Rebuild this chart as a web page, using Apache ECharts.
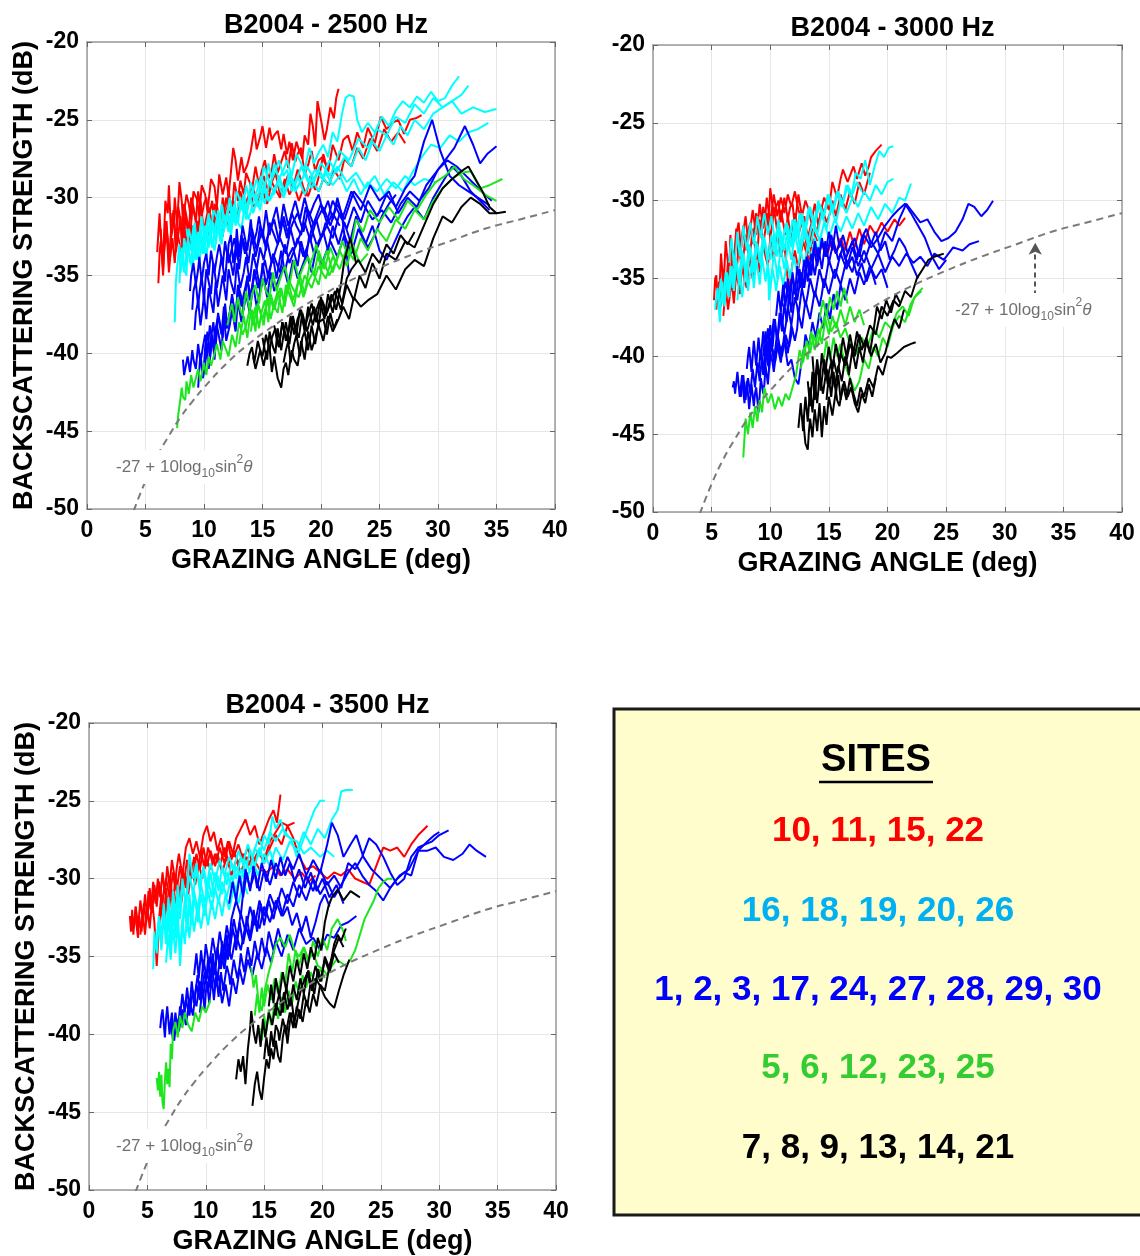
<!DOCTYPE html>
<html><head><meta charset="utf-8">
<script src="https://cdn.jsdelivr.net/npm/echarts@6/dist/echarts.min.js"></script>
<style>html,body{margin:0;padding:0;background:#fff}#c{width:1140px;height:1256px}</style>
</head><body><div id="c"></div>
<script>
// ---------------- DATA ----------------
const titles = ['B2004 - 2500 Hz', 'B2004 - 3000 Hz', 'B2004 - 3500 Hz'];
const xAxisName = 'GRAZING ANGLE (deg)';
const yAxisName = 'BACKSCATTERING STRENGTH (dB)';
const siteTitle = 'SITES';
const siteGroups = ['10, 11, 15, 22', '16, 18, 19, 20, 26', '1, 2, 3, 17, 24, 27, 28, 29, 30', '5, 6, 12, 23, 25', '7, 8, 9, 13, 14, 21'];
const siteColors = ['#ff0000', '#00b0f0', '#0000ff', '#33cc33', '#000000'];
const lineColors = ['#ff0000', '#00ffff', '#0000ff', '#1ee61e', '#000000'];
// reference curve -27 + 10log10 sin^2(theta)
const refAngle = [4, 5, 6, 7, 8, 9, 10, 12, 14, 16, 18, 20, 22, 25, 28, 31, 34, 37, 40];
const refLevel = [-50.1, -48.2, -46.6, -45.3, -44.1, -43.1, -42.2, -40.6, -39.3, -38.2, -37.2, -36.3, -35.5, -34.5, -33.6, -32.8, -32.0, -31.4, -30.8];
const arrowAngle = [32.6, 32.6];
const arrowLevel = [-36.1, -32.7];

// each line: flat list angle,level,angle,level,...
const red2500 = [
[6.0,-33.5,6.2,-31.0,6.3,-32.4,6.5,-34.0,6.7,-30.2,6.9,-31.0,7.0,-29.2,7.2,-32.5,7.4,-31.6,7.5,-30.0,7.7,-31.8,7.9,-29.0,8.1,-30.2,8.2,-31.5,8.5,-29.8,8.7,-30.4,8.9,-31.4,9.1,-29.6,9.4,-30.1,9.6,-31.2,9.8,-29.2,10.1,-29.8,10.3,-30.9,10.6,-28.8,10.9,-29.3,11.1,-30.6,11.3,-28.5,11.6,-29.8,11.9,-28.7,12.1,-29.9,12.5,-26.8,12.7,-27.6,12.9,-28.9,13.2,-27.4,13.4,-28.4,13.7,-27.9,14.0,-27.0,14.3,-25.6,14.5,-26.9,14.8,-26.1,15.0,-25.4,15.3,-26.8,15.6,-25.5,15.8,-26.3,16.0,-26.0,16.3,-25.7,16.6,-26.9,16.8,-25.9,17.1,-27.2,17.3,-26.4,17.6,-27.6,17.9,-26.4,18.1,-26.9,18.4,-27.5,18.6,-26.0,18.9,-26.6,19.1,-24.6,19.3,-25.4,19.5,-26.7,19.7,-23.8,20.0,-25.0,20.3,-26.3,20.5,-25.6,20.8,-24.2,21.1,-24.9,21.3,-23.6,21.5,-23.0],
[6.3,-32.0,6.4,-33.6,6.5,-35.0,6.7,-31.5,6.9,-32.6,7.0,-34.2,7.2,-31.9,7.4,-30.8,7.6,-33.5,7.8,-32.4,8.0,-31.2,8.2,-34.0,8.4,-31.0,8.6,-32.1,8.8,-33.0,9.0,-30.5,9.3,-31.4,9.5,-32.5,9.7,-30.2,10.0,-32.2,10.2,-31.3,10.4,-30.6,10.7,-32.0,10.9,-30.4,11.2,-31.1,11.4,-31.6,11.6,-30.0,11.9,-31.4,12.1,-29.6,12.4,-30.8,12.6,-29.0,12.9,-30.2,13.1,-28.9,13.4,-29.8,13.6,-28.4,13.9,-29.0,14.1,-29.5,14.4,-28.0,14.7,-29.2,14.9,-28.4,15.2,-27.6,15.5,-28.8,15.8,-28.2,16.0,-27.2,16.3,-28.4,16.6,-27.7,16.9,-27.0,17.2,-28.1,17.5,-26.5,17.8,-27.7,18.0,-27.2,18.3,-26.8,18.6,-28.5,18.9,-27.9,19.2,-27.0,19.5,-28.3,19.8,-27.6,20.1,-27.4,20.5,-28.0],
[6.8,-31.5,6.9,-32.9,7.1,-33.8,7.3,-31.0,7.5,-31.8,7.6,-33.2,7.8,-30.6,8.0,-31.5,8.1,-32.8,8.3,-30.4,8.5,-31.2,8.7,-32.2,8.9,-30.0,9.1,-30.6,9.3,-31.6,9.5,-29.6,9.8,-31.2,10.0,-30.4,10.2,-30.0,10.4,-31.3,10.7,-30.2,10.9,-32.0,11.1,-30.5,11.4,-31.8,11.7,-31.0,11.9,-30.0,12.2,-31.0,12.5,-30.2,12.8,-31.2,13.1,-29.6,13.5,-30.5,13.8,-29.9,14.1,-29.2,14.5,-30.1,14.8,-29.5,15.1,-28.6,15.5,-29.6,15.8,-29.0,16.1,-28.4,16.5,-29.8,16.9,-29.2,17.2,-28.5,17.6,-29.4,18.0,-28.2,18.4,-29.1,18.7,-29.9,19.1,-28.6,19.5,-29.5,19.9,-28.4,20.2,-27.2,20.6,-28.4,21.0,-26.6,21.5,-27.6,21.9,-26.3,22.3,-26.0,22.7,-27.0,23.1,-25.8,23.6,-26.8,24.0,-25.5,24.6,-26.5,25.1,-24.8,25.6,-25.6,26.1,-25.2,26.6,-25.0,27.1,-25.9,27.6,-25.0,28.1,-24.9,28.6,-24.7],
[6.1,-35.5,6.2,-33.6,6.3,-32.8,6.5,-34.6,6.6,-33.4,6.8,-32.0,7.0,-34.8,7.1,-33.9,7.3,-32.6,7.5,-34.2,7.7,-32.2,7.9,-32.9,8.1,-33.6,8.3,-31.6,8.6,-33.4,8.8,-32.6,9.0,-31.8,9.2,-33.0,9.5,-31.5,9.7,-32.1,9.9,-33.2,10.2,-31.4,10.4,-32.4,10.6,-31.8,10.8,-30.8,11.1,-32.2,11.3,-31.0,11.6,-32.5,11.8,-31.2,12.1,-32.0,12.4,-30.6,12.7,-31.5,13.0,-30.9,13.3,-30.0,13.6,-31.0,14.0,-29.8,14.3,-30.6,14.7,-30.1,15.0,-29.5,15.4,-30.4,15.8,-29.0,16.2,-29.6,16.5,-30.0,16.9,-28.8,17.3,-29.8,17.7,-29.2,18.1,-30.2,18.5,-29.4,18.9,-29.9,19.3,-29.0,19.8,-29.6,20.2,-28.8,20.7,-29.2,21.1,-28.2,21.6,-28.8,22.0,-27.5,22.6,-28.0,23.1,-26.8,23.6,-27.5,24.2,-26.2,24.8,-27.0,25.4,-25.6,26.0,-26.4,26.6,-25.8,27.2,-26.5]
];
const cyan2500 = [
[7.5,-38.0,7.6,-35.4,7.7,-34.5,7.9,-33.0,8.0,-34.8,8.2,-33.9,8.3,-32.6,8.5,-33.8,8.7,-32.0,8.9,-32.7,9.0,-33.5,9.2,-31.6,9.4,-33.0,9.6,-32.4,9.8,-31.2,10.0,-32.6,10.2,-31.9,10.4,-31.0,10.6,-32.4,10.8,-30.8,11.1,-31.3,11.3,-32.0,11.5,-30.4,11.8,-31.6,12.0,-30.9,12.2,-30.0,12.5,-31.2,12.8,-29.6,13.1,-30.2,13.3,-30.8,13.6,-29.2,13.9,-30.2,14.2,-29.6,14.5,-28.8,14.8,-29.6,15.1,-28.0,15.4,-28.6,15.7,-29.2,16.0,-27.8,16.4,-28.8,16.8,-28.2,17.1,-27.6,17.5,-28.6,17.9,-27.2,18.3,-27.8,18.6,-28.2,19.0,-26.8,19.4,-27.8,19.8,-27.1,20.2,-26.6,20.6,-27.4,21.0,-25.8,21.4,-26.4,21.8,-24.6,22.1,-23.6,22.4,-23.4,22.8,-23.5,23.1,-25.0,23.5,-25.8,24.0,-25.2,24.6,-25.8,25.2,-24.8,25.8,-25.4,26.4,-24.4,27.0,-23.8,27.6,-24.2,28.2,-23.5,28.8,-23.9,29.4,-23.2,30.0,-23.8,30.6,-23.6,31.2,-22.8,31.8,-22.2],
[8.2,-33.5,8.3,-34.6,8.5,-35.0,8.6,-33.0,8.8,-33.9,9.0,-34.6,9.1,-32.4,9.3,-33.1,9.5,-34.0,9.7,-32.0,10.0,-33.6,10.2,-32.6,10.4,-31.8,10.7,-33.2,10.9,-32.2,11.1,-31.4,11.4,-32.8,11.6,-31.0,11.9,-31.6,12.1,-32.2,12.4,-30.6,12.7,-31.8,13.0,-30.9,13.3,-30.2,13.6,-31.4,13.9,-29.8,14.2,-31.0,14.5,-30.2,14.8,-29.4,15.2,-30.4,15.6,-29.0,16.0,-29.8,16.4,-28.6,16.9,-29.6,17.3,-28.4,17.8,-29.2,18.3,-28.0,18.9,-29.0,19.5,-28.2,20.1,-28.8,20.7,-27.6,21.3,-28.4,22.0,-27.4,22.6,-28.0,23.2,-26.8,23.8,-27.6,24.4,-26.4,25.0,-27.0,25.6,-26.0,26.2,-26.6,26.8,-25.4,27.4,-26.0,28.0,-25.0,28.8,-25.6,29.6,-24.6,30.4,-24.2,31.2,-23.8,32.0,-23.4,32.6,-22.8],
[8.5,-32.0,8.7,-32.9,8.9,-33.4,9.1,-31.8,9.4,-33.2,9.6,-32.5,9.8,-31.4,10.1,-32.8,10.4,-31.2,10.7,-31.8,10.9,-32.4,11.2,-30.8,11.6,-32.0,11.9,-31.2,12.2,-30.6,12.6,-31.6,13.0,-30.2,13.4,-31.0,13.8,-30.4,14.1,-29.6,14.6,-30.6,15.1,-29.2,15.6,-30.2,16.0,-29.6,16.4,-28.8,16.9,-29.8,17.4,-28.6,17.9,-29.4,18.4,-28.8,18.8,-28.0,19.4,-28.8,20.0,-27.8,20.8,-28.6,21.6,-27.0,22.4,-27.6,23.2,-26.2,24.0,-26.8,24.8,-25.6,25.6,-26.0,26.4,-24.8,27.2,-25.2,28.0,-24.0,28.8,-24.6,29.6,-23.6,30.4,-24.2,31.2,-23.8,32.0,-24.6,33.0,-24.2,34.0,-24.5,35.0,-24.3],
[9.0,-34.5,9.2,-33.6,9.4,-32.8,9.6,-34.2,9.8,-33.0,10.0,-32.4,10.2,-33.8,10.5,-32.0,10.7,-32.8,10.9,-33.4,11.2,-31.6,11.5,-33.0,11.7,-31.8,12.0,-31.2,12.3,-32.4,12.6,-30.8,12.9,-31.6,13.2,-32.0,13.5,-30.4,13.8,-31.4,14.1,-30.6,14.4,-29.8,14.8,-30.8,15.1,-29.4,15.5,-30.2,15.9,-29.6,16.3,-29.0,16.8,-30.0,17.3,-28.6,17.8,-29.6,18.3,-28.9,18.7,-28.4,19.2,-29.4,19.8,-28.2,20.6,-29.2,21.4,-28.0,22.2,-29.0,23.0,-28.4,23.8,-29.4,24.6,-28.6,25.4,-29.8,26.2,-29.0,27.0,-29.6,27.8,-28.4,28.6,-27.4,29.4,-26.6,30.2,-26.8,31.0,-26.0,31.8,-26.4,32.6,-25.8,33.4,-25.6,34.3,-25.2],
[7.9,-35.5,8.0,-34.0,8.1,-33.2,8.3,-34.8,8.5,-33.6,8.6,-32.8,8.8,-34.2,9.0,-33.4,9.1,-32.4,9.3,-34.0,9.5,-32.2,9.7,-32.8,9.9,-33.6,10.1,-31.8,10.4,-33.2,10.6,-32.4,10.8,-31.6,11.0,-33.0,11.3,-31.2,11.5,-32.6,11.8,-31.8,12.0,-30.8,12.3,-32.0,12.6,-30.4,12.9,-31.6,13.1,-30.6,13.4,-29.8,13.7,-30.8,14.0,-29.0,14.3,-30.0,14.6,-29.4,14.9,-28.6,15.2,-29.4,15.5,-27.8,15.8,-28.8,16.1,-28.3,16.4,-27.6,16.8,-28.6,17.1,-28.2,17.5,-29.6,18.0,-28.6,18.6,-29.8,19.2,-28.8,19.8,-29.6,20.4,-28.4,21.0,-29.2,21.6,-28.6,22.2,-29.6,22.8,-28.8,23.4,-29.8,24.0,-29.0,24.8,-29.6,25.6,-28.8,26.4,-29.4,27.2,-28.6,28.0,-29.2,28.8,-28.8,29.8,-29.0]
];
const blue2500 = [
[8.2,-40.4,8.3,-41.4,8.5,-40.6,8.6,-40.2,8.8,-41.2,9.0,-39.8,9.1,-40.4,9.3,-41.0,9.5,-39.4,9.7,-40.6,9.9,-39.6,10.1,-38.8,10.3,-40.0,10.5,-38.2,10.8,-39.6,11.0,-38.4,11.2,-37.6,11.5,-38.8,11.7,-37.0,11.9,-38.4,12.2,-37.4,12.4,-36.4,12.7,-37.8,12.9,-35.8,13.2,-37.0,13.4,-36.2,13.7,-35.2,14.0,-36.4,14.3,-34.6,14.6,-35.8,14.9,-35.0,15.2,-34.0,15.5,-35.2,15.9,-33.6,16.2,-34.2,16.5,-34.8,16.9,-33.0,17.3,-34.2,17.7,-33.4,18.0,-32.6,18.5,-33.8,18.9,-33.0,19.2,-32.0,19.7,-33.2,20.1,-32.4,20.4,-31.6,21.0,-32.6,21.6,-31.0,22.2,-32.0,22.8,-30.6,23.4,-31.6,24.0,-30.2,24.8,-31.2,25.6,-29.8,26.4,-30.6,27.2,-29.4,28.0,-28.6,28.8,-26.4,29.5,-25.0,30.2,-27.0,31.0,-28.6,31.8,-29.2,32.6,-29.6,33.4,-30.0,34.4,-30.5],
[9.0,-37.2,9.1,-36.0,9.3,-35.4,9.5,-37.0,9.6,-36.2,9.8,-35.0,10.0,-36.6,10.2,-34.6,10.4,-35.4,10.6,-36.2,10.8,-34.2,11.1,-35.8,11.3,-34.8,11.5,-33.8,11.8,-35.4,12.0,-33.4,12.3,-34.2,12.5,-35.0,12.8,-33.0,13.0,-34.6,13.3,-32.6,13.6,-33.4,13.8,-34.2,14.1,-32.4,14.4,-33.8,14.7,-32.8,15.0,-32.0,15.3,-33.4,15.6,-31.6,16.0,-32.4,16.3,-33.0,16.7,-31.4,17.1,-32.6,17.5,-31.0,17.9,-31.8,18.3,-32.4,18.7,-30.6,19.2,-32.0,19.6,-31.2,20.0,-30.4,20.5,-31.6,21.0,-30.2,21.8,-31.4,22.6,-29.6,23.4,-30.8,24.2,-29.2,25.0,-30.2,25.8,-29.6,26.6,-31.0,27.4,-30.0,28.2,-30.6,29.0,-29.2,29.8,-28.4,30.6,-27.6,31.4,-26.8,32.3,-25.4,33.0,-26.6,33.6,-27.8,34.2,-27.2,35.0,-26.7],
[9.5,-42.2,9.6,-41.0,9.7,-40.0,9.9,-41.6,10.1,-40.8,10.2,-39.4,10.4,-41.0,10.6,-39.8,10.7,-38.8,10.9,-40.4,11.1,-38.2,11.3,-39.0,11.5,-39.8,11.7,-37.6,11.9,-39.2,12.2,-38.2,12.4,-37.2,12.7,-38.6,12.9,-36.6,13.2,-38.0,13.4,-37.0,13.6,-36.2,13.9,-37.4,14.2,-35.6,14.5,-37.0,14.8,-36.0,15.1,-35.2,15.4,-36.4,15.7,-34.8,16.0,-36.0,16.4,-35.2,16.8,-34.4,17.2,-35.6,17.6,-34.0,18.0,-35.2,18.4,-34.4,18.8,-33.6,19.2,-34.8,19.6,-33.2,20.0,-34.4,20.4,-33.6,20.8,-32.8,21.4,-33.8,22.0,-32.4,22.6,-33.6,23.2,-32.0,23.8,-33.0,24.4,-31.8,25.0,-33.4,25.6,-34.0,26.2,-33.0,26.8,-32.0,27.4,-31.2,28.0,-30.6,28.8,-31.4,29.6,-30.0,30.4,-29.0,31.2,-28.0,32.0,-28.6,32.8,-29.6,33.6,-30.2,34.4,-30.8],
[8.8,-36.0,8.9,-35.0,9.1,-34.2,9.3,-35.6,9.5,-34.6,9.6,-33.8,9.8,-35.4,10.0,-34.2,10.2,-33.6,10.4,-35.0,10.6,-33.4,10.9,-34.8,11.1,-33.8,11.3,-33.0,11.6,-34.4,11.8,-32.8,12.1,-34.2,12.4,-33.2,12.6,-32.6,12.9,-34.0,13.2,-32.4,13.5,-33.6,13.8,-32.8,14.1,-32.0,14.5,-33.4,14.8,-31.8,15.2,-33.0,15.6,-32.2,16.0,-31.4,16.4,-32.8,16.8,-31.2,17.2,-32.4,17.6,-31.6,18.0,-31.0,18.5,-32.2,18.9,-30.8,19.4,-31.8,19.8,-31.2,20.2,-30.6,20.8,-31.8,21.4,-30.4,22.0,-31.4,22.8,-29.6,23.6,-30.4,24.4,-31.4,25.2,-30.8,26.0,-31.6,26.8,-30.4,27.6,-29.6,28.4,-30.2,29.2,-29.4,30.0,-28.2,30.8,-27.6,31.6,-28.0,32.4,-28.6,33.2,-29.2,34.0,-29.8,34.6,-30.2],
[10.0,-40.8,10.1,-39.6,10.3,-38.6,10.5,-40.2,10.6,-39.0,10.8,-38.0,11.0,-39.6,11.2,-37.4,11.4,-38.2,11.6,-39.0,11.8,-36.8,12.0,-38.4,12.2,-37.4,12.4,-36.2,12.7,-37.8,12.9,-35.6,13.2,-36.4,13.4,-37.2,13.7,-35.0,13.9,-36.6,14.2,-35.4,14.5,-34.6,14.8,-36.0,15.0,-34.2,15.3,-35.6,15.6,-34.6,15.9,-33.8,16.2,-35.2,16.6,-33.4,16.9,-34.8,17.2,-33.8,17.6,-33.2,18.0,-34.4,18.3,-32.8,18.7,-34.0,19.0,-32.4,19.4,-33.6,19.8,-32.8,20.2,-32.2,20.6,-33.4,21.0,-31.8,21.5,-33.0,22.0,-31.6,22.5,-32.8,23.0,-31.2,23.5,-32.4,24.0,-33.2,24.6,-32.4,25.2,-31.2,25.8,-30.4,26.4,-29.8],
[12.0,-34.0,12.1,-33.0,12.3,-32.4,12.5,-34.2,12.7,-33.2,12.8,-32.0,13.0,-33.8,13.3,-31.8,13.5,-32.6,13.7,-33.4,14.0,-31.4,14.2,-33.0,14.5,-32.2,14.7,-31.2,15.0,-32.6,15.3,-30.8,15.6,-32.4,15.9,-31.4,16.2,-30.6,16.5,-32.0,16.8,-30.4,17.2,-31.8,17.5,-31.0,17.8,-30.2,18.2,-31.4,18.6,-30.0,19.0,-31.2,19.4,-30.4,19.8,-29.8,20.2,-31.0,20.6,-30.2,21.0,-31.4,21.4,-30.0,21.8,-31.2,22.1,-33.0,22.4,-35.0],
[9.2,-38.5,9.3,-37.4,9.5,-36.6,9.7,-38.2,9.9,-37.0,10.0,-36.2,10.2,-37.8,10.4,-35.8,10.6,-36.6,10.8,-37.4,11.0,-35.4,11.2,-37.0,11.4,-36.0,11.6,-35.0,11.9,-36.6,12.1,-34.6,12.3,-35.4,12.6,-36.2,12.8,-34.2,13.1,-35.8,13.4,-34.8,13.6,-33.8,13.9,-35.4,14.2,-33.6,14.5,-34.6,14.8,-33.2,15.1,-34.0,15.4,-32.8,15.8,-34.2,16.2,-33.2,16.5,-32.6,17.0,-33.6,17.4,-32.0,17.8,-33.2,18.2,-32.4,18.6,-31.6,19.1,-32.8,19.6,-31.4,20.0,-32.6,20.5,-31.8,21.0,-31.0,21.6,-31.8]
];
const green2500 = [
[7.7,-44.8,7.8,-43.9,7.9,-43.4,8.1,-42.2,8.2,-42.8,8.4,-43.0,8.5,-41.8,8.7,-42.6,8.9,-41.4,9.1,-42.2,9.3,-41.6,9.5,-41.0,9.7,-41.8,10.0,-40.6,10.2,-41.4,10.4,-40.2,10.6,-40.8,10.9,-40.0,11.1,-39.4,11.4,-40.4,11.6,-39.2,11.9,-39.8,12.1,-40.2,12.4,-38.8,12.7,-39.6,13.0,-38.0,13.3,-38.8,13.6,-38.2,13.9,-37.2,14.2,-38.2,14.6,-36.8,15.0,-37.8,15.3,-37.0,15.6,-36.4,16.0,-37.2,16.5,-35.8,16.9,-36.8,17.3,-35.4,17.7,-36.0,18.1,-36.4,18.6,-35.0,19.2,-35.8,19.8,-34.4,20.4,-35.2,21.0,-33.8,21.6,-34.6,22.2,-33.2,22.8,-34.0,23.4,-32.6,24.0,-33.4,24.8,-32.0,25.6,-32.8,26.4,-31.4,27.2,-32.0,28.0,-30.8,28.8,-31.4,29.6,-30.2,30.4,-29.4,31.2,-28.8,32.0,-28.4,32.8,-28.3,33.6,-29.4,34.4,-29.2,35.5,-28.8],
[12.0,-38.2,12.2,-37.4,12.4,-36.8,12.6,-38.0,12.9,-36.4,13.1,-37.2,13.3,-37.6,13.6,-36.0,13.9,-37.2,14.1,-36.2,14.4,-35.6,14.7,-36.8,15.0,-35.2,15.3,-36.0,15.6,-36.4,15.9,-34.8,16.2,-36.0,16.6,-35.0,16.9,-34.4,17.3,-35.6,17.7,-34.0,18.1,-35.2,18.5,-34.4,18.9,-33.8,19.4,-35.0,19.8,-33.4,20.3,-34.6,20.8,-33.2,21.3,-34.2,21.8,-32.8,22.4,-33.8,23.0,-31.4,23.6,-32.2,24.2,-30.8,25.0,-31.6,25.8,-30.6,26.6,-31.4,27.4,-30.2,28.2,-30.8,29.0,-29.8,29.8,-29.0,30.6,-28.6,31.4,-28.0,32.2,-28.8,33.0,-29.2,34.0,-29.8,35.0,-30.2],
[13.0,-39.4,13.2,-38.4,13.4,-37.6,13.7,-39.0,13.9,-37.8,14.1,-37.2,14.4,-38.6,14.6,-36.8,14.9,-37.6,15.1,-38.2,15.4,-36.4,15.7,-37.8,16.0,-36.8,16.3,-36.0,16.7,-37.4,17.0,-35.6,17.4,-36.4,17.7,-37.0,18.1,-35.2,18.5,-36.4,18.9,-35.4,19.3,-34.8,19.8,-35.6,20.2,-34.0,20.7,-35.0,21.2,-34.2,21.6,-33.4,22.2,-34.4,22.7,-33.0,23.3,-34.2,24.0,-33.6],
[14.0,-38.6,14.2,-37.6,14.4,-37.0,14.7,-38.4,14.9,-37.4,15.2,-36.6,15.5,-38.0,15.7,-36.2,16.0,-37.0,16.3,-37.4,16.6,-35.8,16.9,-37.0,17.2,-35.4,17.6,-36.6,17.9,-35.8,18.2,-35.0,18.6,-36.2,19.0,-34.4,19.3,-33.8,19.6,-33.0,20.0,-34.6,20.5,-33.4,21.0,-34.8,21.5,-33.6]
];
const black2500 = [
[13.7,-40.8,13.9,-40.0,14.1,-39.6,14.3,-40.6,14.6,-39.2,14.8,-39.8,15.0,-40.2,15.3,-38.8,15.6,-39.8,15.8,-39.0,16.1,-38.4,16.4,-39.6,16.7,-38.0,17.0,-39.2,17.3,-38.4,17.6,-37.6,17.9,-38.8,18.2,-37.2,18.6,-38.4,18.9,-37.6,19.2,-36.8,19.6,-38.0,20.0,-36.4,20.4,-37.6,20.8,-36.8,21.2,-36.0,21.7,-37.2,22.2,-35.6,22.8,-36.6,23.3,-35.0,23.8,-35.8,24.4,-34.2,25.0,-35.2,25.6,-33.6,26.4,-34.0,27.2,-32.8,28.0,-33.2,28.8,-31.8,29.6,-30.4,30.4,-29.4,31.2,-28.8,32.0,-28.3,32.6,-28.0,33.2,-28.8,33.8,-29.6,34.4,-30.6,35.0,-31.0,35.8,-30.9],
[14.2,-40.2,14.4,-41.0,14.6,-40.4,14.8,-39.8,15.1,-40.8,15.3,-40.0,15.6,-39.6,15.8,-41.2,16.0,-40.2,16.3,-41.6,16.6,-42.2,16.8,-41.0,17.0,-40.6,17.2,-41.4,17.5,-39.8,17.7,-40.4,18.0,-40.8,18.3,-39.2,18.6,-40.4,18.9,-38.6,19.2,-39.8,19.5,-39.0,19.8,-38.2,20.2,-39.2,20.6,-37.6,21.0,-38.6,21.5,-37.8,21.9,-37.0,22.4,-37.8,22.8,-36.4,23.4,-37.0,24.0,-36.6,24.8,-36.2,25.6,-35.0,26.4,-35.9,27.2,-34.6,28.0,-34.0,28.8,-34.4,29.6,-32.6,30.4,-31.2,31.2,-31.6,32.0,-30.6,32.8,-30.0,33.6,-30.4,34.4,-31.0,35.0,-31.0],
[15.0,-39.0,15.2,-39.8,15.4,-40.4,15.6,-38.6,15.9,-39.6,16.1,-40.0,16.3,-38.4,16.6,-39.8,16.8,-38.8,17.0,-38.0,17.3,-39.4,17.6,-37.8,17.9,-38.6,18.1,-39.0,18.4,-37.4,18.8,-38.6,19.1,-37.8,19.4,-37.0,19.8,-38.2,20.1,-36.6,20.5,-37.4,20.9,-36.2,21.3,-37.2,21.7,-35.6,22.0,-34.0,22.5,-32.6,23.0,-34.2],
[16.0,-38.2,16.2,-39.0,16.4,-39.6,16.7,-38.0,16.9,-38.6,17.1,-39.2,17.4,-37.6,17.7,-38.8,18.0,-37.8,18.3,-37.2,18.6,-38.6,18.9,-37.0,19.3,-38.2,19.6,-37.2,19.9,-36.6,20.3,-37.8,20.6,-36.2,21.0,-37.4,21.4,-35.8,21.8,-36.8,22.2,-35.2,22.6,-34.6,23.2,-34.0,23.8,-34.8,24.4,-33.6,25.0,-34.2,25.6,-33.0,26.2,-33.6,26.8,-32.4,27.4,-33.0,28.0,-32.2],
[16.8,-40.6,17.0,-39.8,17.2,-39.2,17.4,-40.6,17.7,-39.4,17.9,-38.8,18.2,-40.2,18.4,-39.0,18.6,-38.6,18.9,-39.8,19.2,-38.2,19.5,-39.4,19.8,-38.0,20.2,-37.8,20.5,-38.8,20.8,-37.4,21.1,-38.4,21.4,-37.8]
];

const red3000 = [
[5.2,-36.4,5.3,-35.0,5.4,-34.8,5.5,-36.6,5.7,-35.2,5.8,-33.4,5.9,-34.4,6.0,-35.8,6.2,-32.6,6.3,-33.4,6.5,-34.6,6.6,-32.2,6.8,-34.0,7.0,-33.0,7.1,-31.8,7.3,-33.6,7.5,-32.8,7.7,-31.6,7.9,-33.2,8.1,-32.0,8.3,-31.4,8.5,-32.8,8.8,-30.8,9.0,-31.4,9.2,-32.2,9.4,-30.4,9.7,-31.6,9.9,-30.6,10.0,-29.2,10.3,-31.0,10.5,-30.4,10.7,-30.0,10.9,-31.4,11.2,-29.8,11.5,-31.2,11.7,-30.4,11.9,-30.2,12.1,-31.6,12.4,-29.6,12.7,-31.0,13.0,-30.0,13.3,-30.6,13.5,-31.4,13.8,-30.2,14.1,-31.6,14.4,-30.4,14.6,-29.8,15.0,-30.6,15.3,-28.8,15.7,-29.8,16.0,-28.6,16.2,-28.0,16.6,-28.8,16.9,-28.2,17.1,-27.8,17.4,-28.6,17.8,-27.6,18.1,-28.4,18.4,-27.8,18.6,-27.2,19.0,-26.8,19.5,-26.4],
[5.4,-37.0,5.5,-36.2,5.6,-35.2,5.8,-36.8,5.9,-35.6,6.0,-34.4,6.2,-36.2,6.3,-35.0,6.4,-33.8,6.6,-35.6,6.8,-33.2,6.9,-34.2,7.1,-35.0,7.3,-32.8,7.5,-34.0,7.6,-34.4,7.9,-32.2,8.1,-33.2,8.2,-34.0,8.5,-31.8,8.7,-33.0,8.9,-33.4,9.1,-31.2,9.4,-32.8,9.6,-31.8,9.7,-30.8,10.0,-32.4,10.2,-31.4,10.3,-30.4,10.6,-32.0,10.9,-30.6,11.1,-31.4,11.3,-32.2,11.5,-31.0,11.8,-32.6,12.1,-30.8,12.4,-32.2,12.7,-31.4,12.9,-31.0,13.2,-32.4,13.6,-31.2,14.0,-32.0,14.4,-30.4,14.8,-31.4,15.1,-30.8,15.3,-30.0,15.6,-31.0,16.0,-29.6,16.4,-30.6,16.8,-29.4,17.2,-30.2,17.6,-28.8,18.0,-29.6,18.5,-28.2],
[6.0,-37.4,6.1,-36.4,6.2,-35.6,6.4,-37.0,6.6,-35.8,6.7,-35.0,6.9,-36.6,7.1,-34.6,7.3,-35.4,7.4,-36.0,7.6,-34.0,7.8,-35.2,8.0,-35.6,8.2,-33.6,8.5,-35.0,8.7,-34.2,8.9,-33.2,9.1,-34.6,9.4,-32.8,9.6,-33.6,9.8,-34.2,10.0,-32.4,10.3,-33.8,10.6,-32.2,10.9,-33.6,11.2,-32.8,11.4,-34.4,11.6,-35.8,11.9,-34.0,12.1,-33.2,12.4,-34.4,12.8,-32.6,13.1,-33.4,13.3,-33.8,13.6,-32.4,14.0,-33.6,14.4,-32.8,14.8,-33.6,15.2,-32.6,15.6,-33.4,16.0,-32.4,16.4,-33.2,16.8,-32.0,17.2,-33.0,17.6,-31.8,18.0,-32.8,18.5,-31.6,19.0,-32.2,19.5,-31.4,20.0,-32.0,20.6,-31.2,21.0,-31.6,21.5,-31.1],
[7.0,-33.0,7.1,-32.2,7.3,-31.4,7.5,-33.2,7.7,-32.0,7.9,-31.0,8.1,-32.6,8.3,-31.8,8.5,-30.6,8.8,-32.2,9.0,-31.0,9.1,-30.2,9.4,-31.8,9.6,-30.8,9.7,-29.8,10.0,-31.4,10.2,-30.2,10.3,-29.6,10.6,-31.0,10.9,-29.8,11.1,-30.4,11.2,-30.8,11.5,-29.6,11.8,-30.4,12.1,-29.4,12.4,-30.6,12.8,-31.4,13.0,-32.4,13.2,-33.4,13.6,-31.8,14.0,-32.6]
];
const cyan3000 = [
[5.3,-37.0,5.4,-36.2,5.5,-35.6,5.7,-37.8,5.8,-36.4,5.9,-35.2,6.1,-36.8,6.2,-35.8,6.3,-34.6,6.5,-36.2,6.7,-34.2,6.8,-35.0,6.9,-35.8,7.1,-33.8,7.3,-34.8,7.4,-35.4,7.7,-33.4,7.9,-34.4,8.0,-35.0,8.3,-33.0,8.5,-34.0,8.6,-34.6,8.9,-32.8,9.1,-33.6,9.2,-34.2,9.5,-32.4,9.7,-33.2,9.8,-33.8,10.1,-32.2,10.4,-33.4,10.6,-32.6,10.7,-31.8,11.0,-33.2,11.2,-32.0,11.3,-31.6,11.6,-32.8,11.9,-31.2,12.1,-31.8,12.2,-32.4,12.5,-30.8,12.9,-32.0,13.1,-31.2,13.3,-30.4,13.7,-31.6,14.1,-30.0,14.3,-30.6,14.5,-31.2,14.9,-29.6,15.3,-30.8,15.7,-29.4,16.1,-30.4,16.5,-29.0,16.9,-29.8,17.3,-28.2,17.7,-28.6,18.1,-27.4,18.5,-29.0,18.9,-27.8,19.3,-26.8,19.7,-27.2,20.1,-26.6,20.5,-26.5],
[5.6,-36.4,5.7,-35.6,5.8,-35.0,6.0,-36.6,6.1,-35.4,6.2,-34.6,6.4,-36.0,6.5,-35.2,6.6,-34.2,6.8,-35.6,7.0,-33.6,7.2,-34.6,7.3,-35.2,7.6,-33.2,7.8,-34.2,7.9,-34.8,8.2,-32.8,8.4,-33.6,8.5,-34.4,8.8,-32.6,9.0,-33.4,9.1,-34.0,9.4,-32.2,9.7,-33.6,9.9,-34.8,10.0,-35.6,10.3,-33.4,10.5,-34.2,10.6,-35.0,10.9,-33.0,11.2,-34.4,11.4,-33.4,11.5,-32.6,11.8,-33.8,12.1,-32.2,12.3,-32.8,12.4,-33.4,12.8,-31.8,13.2,-32.8,13.6,-31.4,14.0,-32.2,14.4,-30.8,14.8,-31.8,15.2,-30.4,15.6,-31.4,16.0,-30.0,16.5,-30.8,17.0,-29.8,17.5,-30.4,18.0,-29.4,18.5,-30.0,19.0,-29.0,19.5,-29.6,20.0,-28.8,20.5,-28.6],
[6.5,-34.0,6.6,-33.0,6.7,-32.4,6.9,-34.2,7.1,-33.0,7.2,-32.0,7.4,-33.6,7.6,-32.6,7.7,-31.6,8.0,-33.2,8.2,-32.0,8.3,-31.4,8.6,-32.8,8.8,-31.8,8.9,-31.0,9.2,-32.4,9.4,-31.2,9.5,-30.8,9.8,-32.2,10.1,-31.0,10.4,-32.6,10.6,-31.8,10.7,-31.2,11.0,-32.8,11.4,-31.4,11.6,-32.2,11.8,-33.0,12.2,-31.6,12.6,-33.2,13.0,-31.8,13.4,-33.0,13.8,-31.6,14.2,-32.6,14.6,-31.4,15.0,-32.4,15.5,-31.2,16.0,-32.0,16.5,-31.0,17.0,-31.8,17.5,-30.8,18.0,-31.6,18.6,-30.4,19.2,-31.2,19.8,-30.2,20.4,-30.8,21.0,-29.8,21.5,-30.0,22.0,-28.9],
[7.2,-36.4,7.3,-35.4,7.4,-34.6,7.6,-36.2,7.8,-35.0,7.9,-34.2,8.1,-35.8,8.3,-34.6,8.4,-34.0,8.6,-35.6,8.8,-33.8,9.0,-34.8,9.1,-35.4,9.3,-33.6,9.6,-35.2,9.8,-34.0,9.9,-36.4,10.2,-34.4,10.4,-35.2,10.5,-35.8,10.8,-34.2,11.1,-35.4,11.3,-34.6,11.4,-33.8,11.7,-35.0,12.0,-33.6,12.3,-34.6,12.6,-33.2,12.9,-34.2,13.2,-32.8,13.5,-33.8,13.8,-32.4,14.1,-33.4,14.4,-32.0],
[10.0,-33.8,10.2,-32.8,10.3,-32.2,10.6,-33.6,10.8,-32.6,10.9,-32.0,11.2,-33.2,11.4,-32.2,11.5,-31.6,11.8,-32.8,12.1,-31.2,12.3,-31.8,12.4,-32.4,12.7,-30.8,13.0,-32.0,13.2,-31.2,13.4,-30.4,13.8,-31.6,14.2,-30.2,14.6,-31.0,15.0,-29.6,15.4,-30.6,15.8,-29.4,16.2,-30.2,16.6,-29.0,17.0,-29.6,17.4,-28.8,17.8,-29.4]
];
const blue3000 = [
[6.8,-42.0,6.9,-41.6,7.0,-42.4,7.2,-41.0,7.3,-41.8,7.4,-42.6,7.6,-41.2,7.7,-42.2,7.8,-43.0,8.0,-41.6,8.1,-42.4,8.2,-43.4,8.4,-41.8,8.6,-43.2,8.7,-42.4,8.8,-42.0,9.0,-43.6,9.2,-41.4,9.4,-42.4,9.5,-41.8,9.6,-40.6,9.8,-41.8,10.0,-39.8,10.2,-40.4,10.3,-41.0,10.6,-39.2,10.8,-40.0,10.9,-40.4,11.2,-38.6,11.4,-39.4,11.5,-39.8,11.8,-38.0,12.1,-39.0,12.3,-38.2,12.4,-37.2,12.7,-38.2,13.0,-36.4,13.2,-37.0,13.4,-37.6,13.8,-35.8,14.2,-36.8,14.4,-36.0,14.6,-35.0,15.0,-36.0,15.5,-34.4,16.0,-35.4,16.5,-33.8,17.0,-34.6,17.5,-33.2,18.0,-34.0,18.6,-32.6,19.2,-33.4,19.8,-32.0,20.4,-32.6,21.0,-31.2,21.6,-30.2,22.2,-30.8,22.8,-31.4,23.4,-31.2,24.0,-32.0,24.6,-32.6,25.2,-32.4,25.8,-32.0,26.4,-31.2,26.9,-30.2,27.4,-30.4,28.0,-31.0,28.5,-30.6,29.0,-30.0],
[8.0,-40.8,8.1,-40.0,8.2,-39.4,8.4,-41.0,8.5,-40.0,8.6,-39.0,8.8,-40.6,9.0,-38.8,9.1,-39.6,9.2,-40.2,9.4,-38.4,9.6,-40.0,9.7,-39.0,9.8,-38.2,10.0,-39.6,10.3,-37.6,10.5,-38.4,10.6,-39.0,10.9,-37.2,11.2,-38.6,11.4,-37.6,11.5,-36.8,11.8,-38.0,12.1,-36.2,12.3,-36.8,12.4,-37.4,12.7,-35.6,13.0,-36.8,13.2,-36.0,13.4,-35.0,13.8,-36.2,14.2,-34.4,14.4,-35.0,14.6,-35.6,15.0,-33.8,15.5,-35.0,16.0,-33.4,16.5,-34.4,17.0,-33.0,17.5,-34.2,18.0,-33.2,18.6,-34.4,19.2,-33.4,19.8,-34.6,20.4,-33.6,21.0,-34.2,21.6,-33.4,22.2,-34.0,22.8,-33.6,23.4,-34.2,24.0,-33.4,24.8,-33.8,25.6,-33.0,26.4,-33.2,27.0,-32.8,27.8,-32.6],
[9.4,-40.0,9.5,-39.2,9.6,-38.4,9.8,-39.8,9.9,-38.8,10.0,-38.0,10.2,-39.4,10.4,-37.6,10.5,-38.4,10.6,-39.0,10.8,-37.2,11.0,-38.4,11.1,-37.4,11.2,-36.6,11.4,-37.8,11.6,-36.0,11.7,-36.6,11.8,-37.2,12.0,-35.4,12.3,-36.4,12.5,-35.4,12.6,-34.6,12.9,-35.6,13.2,-33.8,13.4,-34.2,13.5,-34.8,13.8,-32.6,14.1,-33.8,14.3,-33.0,14.4,-32.4,14.7,-33.6,15.0,-32.0,15.3,-33.2,15.6,-31.6,15.9,-33.0,16.2,-32.2,16.6,-33.4,17.0,-32.6,17.4,-33.8,17.8,-32.4,18.2,-31.8,18.6,-32.8,19.0,-32.0,19.4,-33.2,19.8,-32.6,20.2,-33.8,20.6,-33.2,21.0,-32.4,21.5,-33.0,22.0,-34.0,22.6,-35.0],
[9.0,-41.0,9.1,-40.2,9.2,-39.6,9.4,-41.2,9.5,-40.2,9.6,-39.2,9.8,-40.6,10.0,-38.8,10.2,-39.6,10.3,-40.4,10.6,-38.4,10.9,-40.0,11.0,-39.4,11.2,-39.0,11.5,-40.6,11.8,-40.2,12.1,-41.4,12.4,-41.8,12.7,-40.2,12.9,-39.4,13.0,-38.6,13.3,-39.4,13.6,-37.8,13.9,-38.8,14.0,-38.2,14.2,-37.2,14.5,-38.2,14.8,-36.6,15.1,-37.6,15.2,-37.0,15.4,-36.0,15.7,-37.0,16.0,-35.4,16.4,-36.4,16.8,-35.0,17.2,-36.0,17.6,-34.6,18.0,-35.4,18.5,-34.2,19.0,-35.0,19.5,-34.4,20.0,-35.6],
[10.5,-37.4,10.6,-36.6,10.7,-35.8,10.9,-37.2,11.0,-36.2,11.1,-35.4,11.3,-36.8,11.5,-35.0,11.6,-35.8,11.7,-36.4,11.9,-34.6,12.1,-36.0,12.2,-35.2,12.3,-34.2,12.6,-35.6,12.9,-33.8,13.1,-34.6,13.2,-35.2,13.5,-33.4,13.8,-34.8,14.0,-33.8,14.1,-33.0,14.4,-34.4,14.7,-32.6,15.0,-34.0,15.4,-32.6,15.8,-33.8,16.2,-33.0,16.6,-34.2,17.0,-33.6,17.4,-34.8,17.8,-34.0,18.2,-35.2,18.6,-34.4,19.0,-35.4],
[11.0,-36.8,11.1,-36.0,11.3,-35.2,11.6,-36.6,11.7,-35.6,11.9,-34.8,12.2,-36.2,12.5,-34.4,12.6,-35.0,12.8,-35.6,13.1,-33.6,13.4,-34.8,13.6,-34.0,13.7,-33.0,14.0,-34.2,14.4,-32.6,14.8,-33.6,15.2,-32.2,15.6,-33.4,16.0,-32.6,16.4,-33.8,16.8,-33.0,17.2,-32.4,17.6,-33.6,18.0,-32.2,18.6,-33.0,19.2,-32.4,19.8,-31.6,20.4,-31.0,20.9,-30.6,21.5,-30.2,22.0,-30.8,22.6,-31.6,23.2,-32.4,23.8,-33.6,24.4,-34.4,25.0,-33.8],
[7.5,-42.6,7.6,-41.8,7.7,-41.2,7.9,-42.8,8.0,-41.8,8.1,-41.4,8.3,-42.4,8.5,-40.8,8.6,-41.4,8.7,-42.0,8.9,-40.4,9.1,-41.6,9.2,-40.8,9.3,-40.0,9.5,-41.2,9.7,-39.6,9.8,-40.2,9.9,-40.8,10.1,-39.2,10.4,-40.4,10.7,-39.0,11.0,-40.0,11.3,-38.6,11.6,-39.4,11.9,-38.2]
];
const green3000 = [
[7.7,-46.5,7.9,-44.0,8.1,-45.0,8.3,-43.6,8.5,-44.6,8.7,-43.2,8.9,-44.2,9.1,-42.8,9.3,-43.6,9.5,-42.0,9.8,-43.0,10.1,-42.4,10.4,-43.4,10.7,-42.6,11.0,-43.2,11.3,-42.4,11.6,-42.8,11.9,-42.0,12.2,-41.2,12.5,-39.6,12.8,-40.4,13.1,-39.0,13.4,-39.8,13.7,-38.6,14.0,-39.4,14.4,-38.0,14.8,-37.2,15.2,-38.4,15.6,-37.8,16.0,-38.8,16.4,-38.2,16.8,-39.2,17.3,-39.9,17.8,-38.8,18.3,-39.4,18.8,-38.2,19.3,-38.8,19.8,-37.8,20.3,-38.2,20.8,-37.2,21.3,-36.8,21.8,-37.4,22.3,-36.2,22.9,-35.8],
[14.5,-40.4,14.8,-39.0,15.1,-40.2,15.4,-38.8,15.7,-40.0,16.0,-39.2,16.4,-40.6,16.8,-41.4,17.2,-42.2,17.6,-41.6,18.0,-40.2,18.4,-40.8,18.8,-39.4,19.2,-40.0,19.6,-38.8,20.0,-39.4,20.5,-38.0,21.0,-37.4,21.5,-37.8,22.0,-36.6,22.5,-36.0,23.0,-35.6],
[12.6,-40.8,12.9,-39.4,13.2,-40.2,13.5,-38.4,13.8,-39.6,14.1,-38.2,14.4,-39.2,14.7,-37.6,15.0,-38.6,15.3,-37.4,15.6,-38.2,16.0,-37.0,16.4,-38.0,16.8,-36.8,17.2,-37.8,17.6,-37.0,18.0,-38.0],
[14.2,-37.6,14.5,-36.4,14.8,-37.4,15.1,-36.2,15.4,-37.0,15.7,-35.8,16.0,-36.8,16.3,-35.6,16.6,-36.6]
];
const black3000 = [
[12.4,-44.6,12.5,-43.8,12.6,-43.0,12.8,-44.8,12.9,-43.6,13.0,-42.6,13.2,-44.2,13.4,-42.0,13.5,-42.8,13.6,-43.6,13.8,-41.6,14.0,-43.0,14.1,-42.2,14.2,-41.2,14.5,-42.4,14.8,-40.8,15.0,-41.4,15.1,-41.8,15.4,-40.2,15.7,-41.2,15.9,-40.4,16.0,-39.8,16.4,-40.6,16.8,-39.2,17.2,-40.0,17.6,-38.6,18.0,-39.4,18.5,-38.0,19.0,-38.6,19.5,-36.8,20.0,-37.4,20.5,-36.4,21.0,-36.8,21.5,-35.8,22.0,-36.2,22.5,-35.0,23.0,-34.4,23.5,-33.8,24.0,-33.6,24.8,-33.4],
[12.8,-43.8,12.9,-44.8,13.0,-45.6,13.2,-46.0,13.3,-44.8,13.4,-44.0,13.6,-45.2,13.7,-44.2,13.8,-43.4,14.0,-44.8,14.2,-43.0,14.3,-44.0,14.4,-45.2,14.6,-43.2,14.8,-44.4,14.9,-43.4,15.0,-42.6,15.3,-43.8,15.6,-42.2,15.7,-42.8,15.9,-43.2,16.2,-41.8,16.5,-42.8,16.8,-41.4,17.1,-42.4,17.4,-43.2,17.7,-42.0,18.0,-42.6,18.4,-41.4,18.8,-42.0,19.2,-40.6,19.6,-41.2,20.0,-40.0,20.3,-40.1,20.8,-39.8,21.4,-39.4,22.0,-39.2,22.4,-39.1],
[13.2,-41.6,13.3,-42.4,13.4,-43.2,13.6,-41.0,13.7,-41.8,13.8,-42.8,14.0,-40.6,14.2,-41.4,14.3,-42.2,14.6,-40.2,14.9,-41.8,15.0,-41.0,15.2,-40.4,15.5,-42.0,15.8,-40.6,16.1,-41.6,16.4,-40.0,16.6,-40.6,16.7,-41.2,17.0,-39.6,17.3,-40.8,17.6,-39.4,17.9,-40.4,18.2,-39.0,18.5,-39.8,18.8,-38.4,19.1,-36.8,19.5,-37.6,19.9,-36.4,20.3,-37.2,20.7,-36.0,21.1,-36.6],
[13.6,-40.0,13.7,-41.0,13.8,-41.8,14.0,-40.2,14.1,-40.8,14.2,-41.6,14.4,-39.8,14.7,-41.2,14.8,-40.4,15.0,-39.4,15.3,-40.8,15.6,-39.2,15.9,-40.4,16.2,-38.8,16.5,-40.0,16.8,-38.6,17.1,-39.8,17.4,-38.4,17.8,-39.6,18.2,-38.8,18.6,-40.0,19.0,-39.2,19.4,-40.4,19.8,-39.8,20.2,-38.6,20.6,-37.6,21.0,-38.2,21.4,-37.0],
[14.8,-42.8,14.9,-42.0,15.0,-41.4,15.2,-42.6,15.3,-41.8,15.4,-41.0,15.6,-42.4,15.8,-41.2,16.0,-42.8,16.3,-41.6,16.6,-42.6,16.9,-42.0,17.2,-43.0,17.5,-43.6,17.8,-42.4,18.1,-43.0,18.4,-41.8,18.7,-42.6,19.0,-41.4]
];

const red3500 = [
[3.5,-32.4,3.6,-33.4,3.7,-32.0,3.8,-33.6,3.9,-32.6,4.0,-31.8,4.1,-33.2,4.2,-33.8,4.3,-32.4,4.4,-33.0,4.5,-33.4,4.7,-31.6,4.8,-32.2,4.9,-32.8,5.1,-30.8,5.2,-31.6,5.3,-32.0,5.5,-30.2,5.6,-31.0,5.7,-31.6,5.9,-30.0,6.1,-31.2,6.2,-30.4,6.3,-29.6,6.5,-31.0,6.7,-29.2,6.8,-29.8,6.9,-30.6,7.1,-28.8,7.4,-30.2,7.5,-29.4,7.7,-28.4,8.0,-29.8,8.3,-28.0,8.6,-27.4,8.9,-28.4,9.2,-27.6,9.5,-28.6,9.8,-27.2,10.1,-26.6,10.4,-27.6,10.7,-27.0,11.0,-28.2,11.3,-27.4,11.6,-28.6,11.9,-27.6,12.2,-28.8,12.6,-27.4,13.0,-26.8,13.4,-26.2,13.8,-27.2,14.2,-26.6,14.6,-27.8,15.0,-27.0,15.4,-26.2,15.8,-25.6,16.1,-26.4,16.4,-24.6],
[3.9,-33.0,4.0,-31.8,4.1,-32.4,4.2,-33.2,4.4,-31.4,4.5,-32.0,4.6,-32.8,4.8,-31.0,5.0,-32.6,5.1,-31.6,5.2,-30.6,5.4,-32.2,5.6,-30.4,5.7,-31.0,5.8,-31.8,6.0,-30.2,6.3,-31.6,6.4,-30.8,6.6,-30.0,6.9,-31.2,7.2,-29.6,7.3,-30.2,7.5,-30.8,7.8,-29.2,8.1,-30.4,8.4,-28.8,8.7,-30.0,9.0,-28.6,9.3,-29.6,9.6,-28.2,9.9,-29.4,10.2,-28.0,10.6,-29.0,11.0,-28.4,11.4,-29.6,11.8,-28.6,12.2,-29.8,12.6,-28.8,13.0,-29.6,13.5,-28.6,14.0,-29.4,14.5,-28.2,15.0,-28.8,15.5,-27.6,16.0,-27.0,16.5,-26.4,17.0,-26.6,17.5,-27.4,18.0,-28.6,18.6,-29.4,19.2,-29.2,19.8,-29.6,20.4,-30.0,21.0,-29.6,21.6,-29.8,22.2,-29.4,22.8,-30.0,23.4,-30.2,24.0,-30.4,24.6,-29.2,25.2,-28.0,25.8,-28.2,26.4,-28.0,27.0,-28.6,27.6,-27.8,28.2,-27.2,29.0,-26.6],
[4.4,-33.6,4.6,-32.2,4.8,-33.6,5.0,-31.8,5.2,-33.2,5.4,-31.4,5.6,-32.8,5.8,-35.6,6.0,-33.0,6.2,-31.8,6.4,-33.2,6.6,-31.4,6.8,-32.6,7.0,-30.8,7.3,-32.2,7.6,-30.4,7.9,-31.6,8.2,-29.8,8.5,-31.0,8.8,-29.4,9.1,-30.4,9.4,-29.0,9.7,-30.0,10.0,-28.6,10.4,-29.4,10.8,-28.4,11.2,-29.2,11.6,-28.0,12.0,-29.0,12.4,-28.2,12.8,-29.0,13.2,-28.4,13.6,-29.2,14.0,-28.6,14.6,-29.4,15.2,-29.6,15.8,-29.2,16.4,-29.8,17.0,-29.4,17.6,-30.0,18.2,-29.6,18.8,-30.2,19.4,-29.8],
[6.0,-32.6,6.2,-31.0,6.4,-32.8,6.6,-30.6,6.8,-32.2,7.0,-30.2,7.2,-31.8,7.4,-29.8,7.7,-31.2,8.0,-29.4,8.3,-30.6,8.6,-28.8,8.9,-30.0,9.2,-28.4,9.5,-29.4,9.8,-28.0,10.1,-29.2,10.4,-28.2,10.8,-29.2,11.2,-28.0,11.6,-29.0,12.0,-27.6,12.4,-28.6,12.8,-27.8,13.2,-28.8,13.6,-28.0,14.0,-29.0,14.5,-28.2,15.0,-29.0,15.5,-28.0,16.0,-27.2,16.5,-27.8,17.0,-26.6,17.6,-26.4]
];
const cyan3500 = [
[5.5,-35.8,5.6,-33.4,5.7,-34.2,5.8,-34.8,6.0,-32.6,6.1,-33.4,6.2,-34.4,6.4,-32.2,6.5,-33.0,6.6,-34.0,6.8,-31.8,6.9,-32.8,7.0,-33.6,7.2,-31.4,7.4,-33.2,7.5,-32.4,7.6,-31.0,7.8,-32.6,8.0,-30.4,8.2,-31.2,8.3,-32.0,8.6,-28.4,8.8,-29.4,8.9,-30.0,9.2,-29.0,9.5,-30.6,9.6,-29.8,9.8,-29.4,10.1,-31.0,10.4,-29.6,10.7,-31.2,10.9,-30.2,11.0,-29.8,11.4,-31.0,11.8,-29.6,12.2,-30.6,12.6,-29.2,13.0,-30.2,13.4,-28.8,13.8,-29.6,14.2,-28.0,14.6,-28.6,15.0,-27.2,15.4,-27.8,15.7,-26.0,16.0,-26.8,16.4,-26.2,16.8,-27.2,17.3,-27.4,17.8,-28.6,18.3,-27.6,18.8,-26.6,19.3,-25.6,19.8,-25.0,20.2,-25.0],
[5.8,-34.0,5.9,-33.0,6.0,-32.4,6.2,-34.6,6.3,-33.2,6.4,-32.0,6.6,-34.2,6.7,-33.4,6.8,-32.6,7.0,-34.4,7.2,-32.2,7.3,-33.0,7.4,-33.8,7.6,-32.0,7.8,-35.6,8.0,-33.2,8.2,-31.8,8.4,-33.4,8.5,-32.6,8.6,-31.6,8.8,-33.0,9.0,-31.2,9.2,-32.0,9.3,-32.8,9.6,-31.0,9.9,-32.4,10.2,-30.8,10.5,-32.0,10.8,-30.6,11.1,-31.6,11.4,-30.2,11.8,-31.2,12.2,-29.8,12.6,-30.8,13.0,-29.4,13.5,-30.2,14.0,-28.8,14.5,-29.8,15.0,-28.4,15.5,-29.2,16.0,-28.0,16.6,-28.8,17.2,-27.6,17.8,-28.2,18.4,-27.0,19.0,-27.8,19.6,-26.8,20.2,-27.4,20.8,-26.2,21.3,-25.6,21.6,-24.4,22.0,-24.3,22.6,-24.3],
[6.2,-33.8,6.3,-32.6,6.4,-31.6,6.6,-33.4,6.7,-32.4,6.8,-31.2,7.0,-33.0,7.2,-30.8,7.3,-31.6,7.4,-32.4,7.6,-30.4,7.8,-32.0,7.9,-31.2,8.0,-30.0,8.3,-31.6,8.6,-29.8,8.8,-30.4,8.9,-31.2,9.2,-29.4,9.5,-30.8,9.8,-29.2,10.1,-30.4,10.4,-29.0,10.8,-30.2,11.2,-28.8,11.6,-29.8,12.0,-28.6,12.4,-29.4,12.8,-28.2,13.2,-29.0,13.6,-27.8,14.0,-28.6,14.5,-27.4,15.0,-28.2,15.5,-27.0,16.0,-27.6,16.6,-26.8,17.2,-27.4,17.8,-27.6,18.4,-28.4,19.0,-28.0,19.8,-28.6,20.4,-28.2,21.0,-28.6],
[6.6,-35.4,6.7,-34.4,6.8,-33.6,7.0,-35.2,7.1,-34.0,7.2,-33.2,7.4,-34.8,7.6,-33.0,7.7,-33.8,7.8,-34.6,8.0,-32.6,8.2,-34.2,8.3,-33.4,8.4,-32.4,8.6,-33.8,8.8,-32.0,9.0,-33.4,9.3,-31.8,9.6,-33.2,9.9,-31.6,10.2,-33.0,10.5,-31.4,10.8,-32.6,11.1,-31.2,11.4,-32.4,11.7,-31.0,12.0,-32.0,12.4,-30.6,12.8,-31.6,13.2,-30.2,13.6,-31.0],
[8.0,-33.0,8.2,-31.4,8.4,-32.8,8.6,-31.0,8.8,-32.4,9.0,-30.8,9.3,-32.0,9.6,-30.4,9.9,-31.6,10.2,-30.0,10.5,-31.2,10.8,-29.6,11.1,-30.8,11.4,-29.2,11.8,-30.4,12.2,-29.0,12.6,-30.0,13.0,-28.6,13.4,-29.6,13.8,-28.2,14.2,-29.2,14.6,-28.0,15.0,-29.0,15.5,-28.2,16.0,-29.4]
];
const blue3500 = [
[6.1,-39.6,6.2,-38.8,6.3,-38.4,6.5,-40.2,6.6,-39.0,6.7,-38.2,6.9,-40.0,7.0,-39.2,7.1,-38.6,7.3,-40.4,7.5,-39.0,7.6,-39.4,7.7,-39.8,8.0,-38.4,8.3,-39.4,8.6,-37.8,8.9,-38.8,9.2,-36.8,9.5,-37.8,9.8,-35.2,10.1,-36.4,10.4,-35.0,10.7,-36.2,11.0,-34.6,11.3,-35.8,11.6,-34.2,11.9,-35.2,12.2,-32.6,12.6,-31.4,13.0,-32.4,13.4,-29.4,13.8,-30.6,14.2,-29.6,14.6,-30.8,15.0,-29.4,15.5,-30.4,16.0,-29.0,16.5,-29.8,17.0,-28.6,17.5,-29.4,18.0,-28.4,18.6,-29.8,19.2,-28.8,19.8,-29.6,20.4,-27.8,20.8,-26.4,21.3,-27.2,21.8,-28.6,22.4,-27.8,22.9,-27.2,23.5,-28.6,24.2,-29.4,25.0,-30.0,25.8,-30.6,26.6,-29.8,27.4,-29.4,28.2,-28.2,29.0,-27.6,29.6,-27.2,30.0,-27.0],
[7.0,-39.2,7.1,-39.8,7.2,-40.4,7.4,-38.6,7.5,-39.2,7.6,-39.8,7.8,-38.2,8.0,-39.4,8.1,-38.8,8.3,-37.8,8.6,-38.8,8.9,-37.2,9.0,-37.6,9.2,-38.2,9.5,-36.6,9.8,-37.6,9.9,-36.8,10.1,-36.0,10.4,-37.0,10.7,-35.4,11.0,-36.4,11.1,-35.8,11.3,-34.8,11.6,-35.8,11.9,-34.2,12.2,-35.2,12.6,-33.6,13.0,-34.6,13.4,-33.0,13.8,-34.0,14.2,-32.4,14.6,-33.2,15.0,-31.8,15.5,-32.8,16.0,-31.4,16.5,-32.4,17.0,-31.0,17.5,-31.8,18.0,-30.4,18.6,-31.4,19.2,-30.0,19.8,-31.0,20.4,-30.2,21.0,-31.2,21.6,-30.4,22.2,-29.6,22.8,-29.0,23.4,-29.8,24.0,-30.4,24.6,-30.8,25.2,-31.4,25.8,-30.6,26.4,-30.0,27.0,-29.6,27.6,-29.8,28.2,-28.2,29.0,-28.2,29.7,-28.0,30.4,-28.6,31.2,-28.8,32.0,-28.4,32.6,-27.8,33.2,-28.2,34.0,-28.6],
[9.0,-36.2,9.2,-34.8,9.4,-36.4,9.6,-34.6,9.8,-36.0,10.0,-34.2,10.3,-35.6,10.6,-33.8,10.9,-35.2,11.2,-33.4,11.5,-34.8,11.8,-33.0,12.1,-34.2,12.4,-32.6,12.7,-33.8,13.0,-32.2,13.4,-33.4,13.8,-31.8,14.2,-33.0,14.6,-31.4,15.0,-32.4,15.5,-31.0,16.0,-32.0,16.5,-30.6,17.0,-31.6,17.5,-30.2,18.0,-31.2,18.6,-29.8,19.2,-30.8,19.8,-29.4,20.4,-30.4,21.0,-29.8,21.6,-30.6,22.2,-29.0,22.8,-29.4,23.4,-28.6,24.0,-27.4,24.6,-27.8,25.2,-28.6,25.8,-29.6,26.4,-30.4,27.0,-30.0,27.6,-28.6,28.2,-28.0,28.8,-27.8,29.4,-27.6,30.0,-27.2,30.8,-26.9],
[7.8,-38.8,8.0,-37.4,8.2,-38.6,8.4,-37.0,8.6,-38.4,8.8,-36.6,9.0,-38.0,9.3,-36.2,9.6,-37.6,9.9,-36.0,10.2,-37.2,10.5,-35.6,10.8,-37.0,11.1,-36.2,11.4,-38.0,11.7,-36.8,12.0,-38.2,12.3,-36.4,12.6,-37.4,12.9,-35.8,13.2,-36.8,13.6,-35.2,14.0,-36.2,14.4,-34.8,14.8,-35.8,15.2,-34.4,15.6,-35.4,16.0,-34.0,16.5,-35.0,17.0,-33.6,17.5,-34.6,18.0,-33.2,18.6,-34.2,19.2,-33.8,19.8,-34.6,20.4,-33.6,21.0,-33.8,21.6,-33.0,22.2,-32.8,22.9,-32.4],
[10.0,-36.8,10.1,-36.0,10.2,-35.2,10.4,-36.6,10.5,-35.6,10.6,-34.8,10.8,-36.2,11.0,-34.4,11.1,-35.0,11.2,-35.8,11.4,-34.0,11.6,-35.4,11.7,-34.6,11.8,-33.6,12.0,-35.0,12.3,-33.2,12.5,-33.8,12.6,-34.6,12.9,-32.8,13.2,-34.2,13.4,-33.4,13.5,-32.4,13.8,-33.8,14.1,-32.0,14.4,-33.4,14.7,-31.6,15.0,-33.0,15.4,-31.4,15.8,-32.6,16.2,-31.2,16.6,-32.4,17.0,-31.8,17.4,-33.0,17.8,-32.2,18.2,-33.4,18.6,-32.4,19.0,-33.8,19.4,-32.8,19.8,-31.6,20.2,-31.0,20.6,-31.8],
[12.0,-31.6,12.3,-30.2,12.6,-31.4,12.9,-29.8,13.2,-31.2,13.5,-29.6,13.8,-30.8,14.1,-29.2,14.4,-30.6,14.8,-29.0,15.2,-30.2,15.6,-28.8,16.0,-30.0,16.4,-28.6,16.8,-29.8,17.2,-29.0,17.6,-30.2,18.0,-29.4,18.5,-30.6,19.0,-29.6,19.5,-30.8,20.0,-30.0,20.6,-31.2,21.2,-30.4,21.8,-31.6],
[9.5,-38.6,9.6,-37.8,9.7,-37.0,9.9,-38.4,10.0,-37.4,10.1,-36.6,10.3,-38.0,10.5,-36.4,10.6,-37.0,10.7,-37.8,10.9,-36.2,11.1,-37.6,11.2,-36.8,11.3,-36.0,11.5,-37.2,11.8,-35.6,12.0,-36.2,12.1,-36.8,12.4,-35.2,12.7,-36.4,12.9,-35.6,13.0,-34.8,13.3,-36.0,13.6,-34.4,13.9,-35.6,14.2,-34.0,14.5,-35.2,14.8,-33.8,15.1,-35.0,15.4,-33.4,15.8,-34.6,16.2,-33.2,16.6,-34.4]
];
const green3500 = [
[5.8,-42.8,5.9,-43.6,6.0,-42.4,6.1,-44.0,6.2,-42.6,6.3,-44.4,6.4,-44.8,6.5,-43.0,6.6,-41.8,6.7,-43.2,6.8,-42.2,6.9,-43.4,7.0,-40.6,7.1,-41.6,7.2,-39.8,7.4,-39.2,7.6,-40.2,7.8,-38.8,8.0,-39.6,8.2,-38.6,8.5,-39.4,8.8,-39.8,9.1,-38.6,9.4,-39.2,9.7,-38.2,10.0,-38.6,10.4,-37.8],
[13.9,-35.7,14.1,-37.0,14.3,-36.2,14.5,-37.8,14.8,-38.5,15.1,-37.0,15.4,-36.0,15.7,-35.2,16.0,-34.2,16.4,-33.8,16.8,-34.4,17.2,-33.6,17.6,-34.6,18.0,-35.0,18.4,-34.4,18.8,-35.2,19.2,-34.8,19.6,-35.6,20.0,-35.8,20.4,-36.2,20.8,-35.6,21.2,-35.2,21.6,-35.4,22.0,-35.6,22.4,-35.2,22.8,-34.6,23.2,-33.6,23.6,-32.6,24.0,-32.0,24.4,-31.4,24.8,-30.6,25.2,-30.2,25.6,-30.0,26.0,-30.0],
[14.2,-38.8,14.4,-37.4,14.6,-38.6,14.8,-37.0,15.0,-38.2,15.3,-36.8,15.6,-37.8,15.9,-36.4,16.2,-37.4,16.5,-36.0,16.8,-36.8,17.1,-34.8,17.4,-36.0,17.7,-34.6,18.0,-35.6,18.4,-34.4,18.8,-35.4,19.2,-34.0,19.6,-35.0,20.0,-33.8,20.4,-34.6,20.8,-33.2,21.3,-32.6,21.8,-33.4,22.0,-34.0],
[14.6,-39.6,14.8,-40.4,15.0,-38.8,15.2,-39.8,15.4,-38.4,15.6,-39.4,15.9,-38.0,16.2,-39.0,16.5,-37.6,16.8,-38.6,17.1,-37.2,17.4,-38.0,17.7,-36.6,18.0,-37.4,18.3,-36.2,18.6,-37.0,19.0,-36.0,19.4,-36.8,19.8,-35.8,20.2,-36.4]
];
const black3500 = [
[12.6,-42.9,12.8,-41.6,13.0,-42.4,13.2,-41.4,13.4,-43.2,13.6,-41.0,13.8,-39.6,13.9,-38.5,14.1,-39.8,14.3,-40.6,14.5,-39.4,14.7,-40.8,14.9,-39.0,15.1,-40.2,15.4,-38.6,15.7,-39.4,16.0,-38.0,16.4,-38.8,16.7,-37.3,17.0,-38.4,17.3,-37.6,17.6,-39.2,17.9,-38.0,18.2,-37.0,18.5,-36.4,18.8,-35.9,19.1,-37.2,19.4,-36.4,19.8,-36.9,20.2,-37.6,20.6,-38.0,21.0,-38.3,21.4,-37.2,21.8,-36.2,22.3,-35.2],
[14.0,-44.6,14.2,-43.2,14.4,-42.4,14.6,-43.6,14.8,-44.2,15.0,-42.8,15.2,-41.6,15.4,-42.2,15.6,-40.9,15.8,-41.6,16.0,-40.4,16.2,-41.4,16.4,-41.8,16.6,-40.2,16.8,-39.4,17.0,-40.6,17.2,-39.2,17.4,-38.6,17.7,-39.6,18.0,-38.4,18.3,-39.2,18.6,-37.8,18.9,-38.6,19.2,-37.4,19.5,-38.2,19.8,-36.8,20.2,-37.2,20.6,-35.6,21.0,-34.6,21.4,-33.8,21.8,-34.4],
[15.4,-38.2,15.6,-36.8,15.8,-38.0,16.0,-36.4,16.3,-37.6,16.6,-36.0,16.9,-37.2,17.2,-35.6,17.5,-36.6,17.8,-35.2,18.1,-36.2,18.4,-34.8,18.7,-35.8,19.0,-34.4,19.3,-35.2,19.6,-33.8,19.9,-34.6,20.2,-32.8,20.5,-31.8,20.8,-31.2,21.3,-30.7,21.8,-31.4,22.4,-30.8,23.2,-31.2],
[15.0,-41.6,15.1,-40.8,15.2,-40.2,15.4,-41.4,15.5,-40.6,15.6,-39.8,15.8,-40.8,16.0,-39.4,16.2,-39.8,16.3,-40.4,16.6,-39.0,16.9,-40.0,17.0,-39.4,17.2,-38.6,17.5,-39.6,17.8,-38.2,18.1,-39.0,18.4,-37.4,18.7,-38.2,19.0,-36.6,19.3,-37.4,19.6,-35.8,19.9,-36.6,20.2,-35.0,20.6,-35.8,21.0,-34.2,21.3,-33.6,21.6,-34.0,22.0,-33.2],
[16.0,-38.8,16.1,-38.0,16.3,-37.4,16.6,-38.6,16.7,-37.8,16.9,-37.0,17.2,-38.2,17.5,-36.8,17.6,-37.2,17.8,-37.8,18.1,-36.4,18.4,-37.4,18.7,-36.0,19.0,-37.0,19.4,-35.6,19.8,-36.6,20.2,-35.2,20.6,-36.0,21.0,-34.8,21.4,-35.4]
];

// ---------------- BUILD ----------------
const FONT = '"Liberation Sans", Arial, Helvetica, sans-serif';
const panelGroups = [
  [red2500, cyan2500, blue2500, green2500, black2500],
  [red3000, cyan3000, blue3000, green3000, black3000],
  [red3500, cyan3500, blue3500, green3500, black3500]
];
const grids = [
  {left: 87, top: 42, width: 468, height: 467},
  {left: 653, top: 45, width: 469, height: 467},
  {left: 89, top: 723, width: 467, height: 467}
];
const titleY = [7, 10, 687];

function pairs(flat) { const out = []; for (let i = 0; i < flat.length; i += 2) out.push([flat[i], flat[i + 1]]); return out; }

const axisColor = '#9a9a9a';
const xAxes = [], yAxes = [], series = [], titleComps = [];
grids.forEach((g, i) => {
  xAxes.push({
    gridIndex: i, type: 'value', min: 0, max: 40, interval: 5, position: 'bottom',
    name: xAxisName, nameLocation: 'middle', nameGap: 38,
    nameTextStyle: {fontFamily: FONT, fontWeight: 'bold', fontSize: 27, color: '#000'},
    axisLine: {show: true, onZero: false, lineStyle: {color: axisColor, width: 1.5}},
    axisTick: {show: true, inside: true, length: 5, lineStyle: {color: '#666'}},
    axisLabel: {fontFamily: FONT, fontWeight: 'bold', fontSize: 23, color: '#000', margin: 10},
    splitLine: {show: true, lineStyle: {color: '#e6e6e6', width: 1}}
  });
  yAxes.push({
    gridIndex: i, type: 'value', min: -50, max: -20, interval: 5, position: 'left',
    name: i === 1 ? '' : yAxisName, nameLocation: 'middle', nameGap: 49,
    nameTextStyle: {fontFamily: FONT, fontWeight: 'bold', fontSize: 27, color: '#000'},
    axisLine: {show: true, onZero: false, lineStyle: {color: axisColor, width: 1.5}},
    axisTick: {show: true, inside: true, length: 5, lineStyle: {color: '#666'}},
    axisLabel: {fontFamily: FONT, fontWeight: 'bold', fontSize: 23, color: '#000', margin: 8},
    splitLine: {show: true, lineStyle: {color: '#e6e6e6', width: 1}}
  });
  titleComps.push({
    text: titles[i], left: g.left + g.width / 2, top: titleY[i], textAlign: 'center',
    textStyle: {fontFamily: FONT, fontWeight: 'bold', fontSize: 27, color: '#000'}
  });
});
grids.forEach((g, i) => {
  xAxes.push({
    gridIndex: i, type: 'value', min: 0, max: 40, interval: 5, position: 'top',
    axisLine: {show: true, onZero: false, lineStyle: {color: axisColor, width: 1.5}},
    axisTick: {show: true, inside: true, length: 5, lineStyle: {color: '#666'}},
    axisLabel: {show: false}, splitLine: {show: false}
  });
  yAxes.push({
    gridIndex: i, type: 'value', min: -50, max: -20, interval: 5, position: 'right',
    axisLine: {show: true, onZero: false, lineStyle: {color: axisColor, width: 1.5}},
    axisTick: {show: true, inside: true, length: 5, lineStyle: {color: '#666'}},
    axisLabel: {show: false}, splitLine: {show: false}
  });
});

panelGroups.forEach((groups, p) => {
  groups.forEach((lines, c) => {
    lines.forEach((flat) => {
      series.push({
        type: 'line', xAxisIndex: p, yAxisIndex: p, data: pairs(flat),
        symbol: 'none', showSymbol: false, silent: true, z: 2,
        lineStyle: {color: lineColors[c], width: 2}
      });
    });
  });
  const ref = {
    type: 'line', xAxisIndex: p, yAxisIndex: p, smooth: true,
    data: refAngle.map((a, k) => [a, refLevel[k]]),
    symbol: 'none', showSymbol: false, silent: true, z: 3,
    lineStyle: {color: '#7a7a7a', width: 2, type: [7, 5]}
  };
  if (p === 1) {
    ref.markLine = {
      silent: true, symbol: ['none', 'arrow'], symbolSize: [10, 12],
      label: {show: false},
      lineStyle: {color: '#555', width: 2, type: [5, 4]},
      data: [[{coord: [arrowAngle[0], arrowLevel[0]]}, {coord: [arrowAngle[1], arrowLevel[1]]}]]
    };
  }
  series.push(ref);
});

function formulaText(x, y) {
  return {
    type: 'text', x: x, y: y, z: 10, silent: true,
    style: {
      text: '{a|-27 + 10log}{b|10}{a|sin}{c|2}{d|θ}',
      align: 'left', verticalAlign: 'middle',
      backgroundColor: '#ffffff', padding: [4, 3, 4, 3],
      rich: {
        a: {fontFamily: FONT, fontSize: 17, fill: '#707070', lineHeight: 26, verticalAlign: 'middle'},
        b: {fontFamily: FONT, fontSize: 12, fill: '#707070', lineHeight: 26, verticalAlign: 'bottom'},
        c: {fontFamily: FONT, fontSize: 12, fill: '#707070', lineHeight: 26, verticalAlign: 'top'},
        d: {fontFamily: FONT, fontSize: 17, fontStyle: 'italic', fill: '#707070', lineHeight: 26, verticalAlign: 'middle'}
      }
    }
  };
}

const legendRowsY = [831, 911, 990, 1068, 1148];
const graphics = [
  {type: 'rect', z: 1, silent: true, shape: {x: 614, y: 709, width: 540, height: 506},
   style: {fill: '#fefdcb', stroke: '#1a1a1a', lineWidth: 3}},
  {type: 'text', z: 5, silent: true, x: 876, y: 761,
   style: {text: siteTitle, font: 'bold 38px ' + FONT, fill: '#000', align: 'center', verticalAlign: 'middle'}},
  {type: 'line', z: 5, silent: true, shape: {x1: 819, y1: 782, x2: 933, y2: 782}, style: {stroke: '#000', lineWidth: 2.5}},
  formulaText(113, 467),
  formulaText(952, 310),
  formulaText(113, 1146)
];
siteGroups.forEach((t, i) => {
  graphics.push({type: 'text', z: 5, silent: true, x: 878, y: legendRowsY[i],
    style: {text: t, font: 'bold 35px ' + FONT, fill: siteColors[i], align: 'center', verticalAlign: 'middle'}});
});

const chart = echarts.init(document.getElementById('c'), null, {renderer: 'canvas'});
chart.setOption({
  animation: false,
  backgroundColor: '#ffffff',
  title: titleComps,
  grid: grids.map(g => Object.assign({containLabel: false}, g)),
  xAxis: xAxes,
  yAxis: yAxes,
  series: series,
  graphic: graphics
});
</script>
</body></html>
